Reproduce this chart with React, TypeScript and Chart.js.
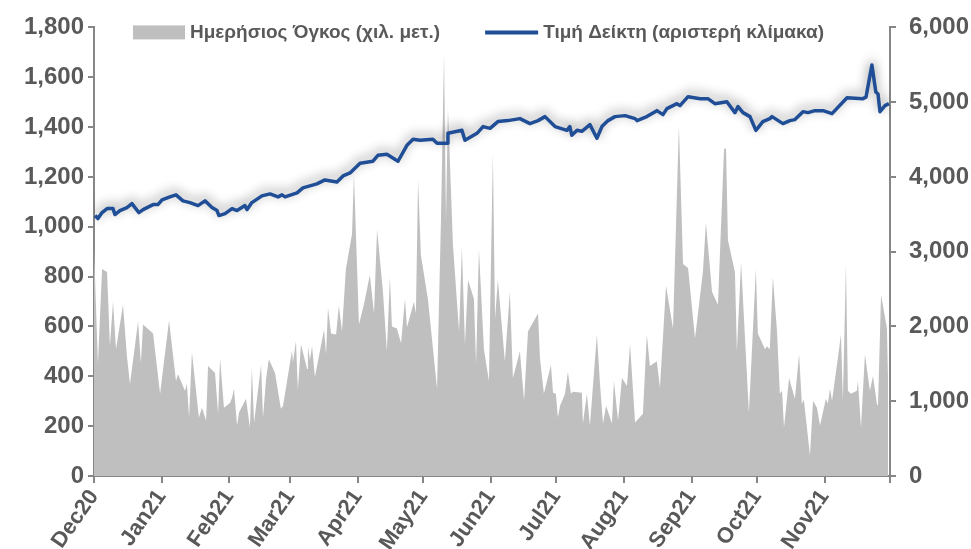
import React, { useEffect, useRef } from "react";
import { Chart, registerables } from "chart.js";

Chart.register(...registerables);

// Days counted from 1 Dec 2020
const volumeDays = [0, 1.8, 3.7, 6.0, 7.3, 8.7, 10.1, 13.3, 15.1, 16.5, 20.2, 21.5, 22.5, 27.1, 30.3, 34.4, 37.6, 38.5, 41.7, 42.6, 43.6, 44.9, 48.1, 49.5, 51.4, 52.3, 55.5, 56.9, 57.8, 59.6, 62.4, 63.3, 64.2, 65.6, 66.5, 69.7, 71.5, 72.4, 73.4, 76.6, 77.5, 78.9, 80.2, 83.0, 85.7, 86.7, 90.8, 91.2, 92.6, 93.5, 94.9, 97.7, 98.1, 99.0, 100.0, 101.3, 105.5, 106.4, 107.3, 108.7, 111.0, 112.3, 113.7, 115.5, 118.3, 119.2, 121.5, 123.8, 126.5, 128.4, 129.8, 132.5, 134.3, 135.7, 136.6, 138.9, 140.8, 142.6, 143.5, 146.7, 147.6, 148.6, 149.9, 153.1, 157.3, 159.1, 160.5, 161.4, 162.3, 164.6, 167.4, 168.7, 170.1, 171.5, 174.2, 175.2, 176.5, 178.8, 181.1, 182.9, 183.9, 185.2, 188.4, 190.7, 192.1, 195.3, 197.2, 199.0, 203.6, 204.5, 206.3, 209.5, 210.5, 211.8, 212.7, 213.7, 216.0, 217.3, 218.7, 219.6, 223.7, 224.2, 226.0, 227.4, 230.6, 232.0, 233.4, 234.8, 237.5, 238.4, 240.3, 242.1, 244.4, 245.8, 248.1, 251.7, 253.5, 254.9, 258.1, 259.5, 262.3, 265.5, 268.2, 270.1, 272.4, 275.6, 279.2, 280.6, 283.4, 286.1, 288.9, 289.8, 290.7, 293.9, 294.8, 296.7, 300.3, 303.5, 304.4, 307.7, 308.6, 309.9, 311.3, 313.2, 314.5, 315.5, 316.4, 318.7, 321.4, 323.3, 324.6, 325.5, 328.3, 329.7, 331.5, 332.9, 335.6, 336.5, 337.5, 338.4, 341.1, 342.5, 343.4, 344.8, 345.7, 347.1, 349.8, 350.3, 351.7, 353.5, 355.8, 357.2, 359.0, 359.5, 360.9, 363.6, 364.1];
const volumeValues = [3060, 1497, 2768, 2728, 1735, 2331, 1695, 2291, 1603, 1232, 2066, 1510, 2026, 1907, 1099, 2079, 1272, 1364, 1139, 1232, 781, 1656, 781, 914, 742, 1470, 1377, 834, 1576, 914, 980, 1046, 1166, 675, 848, 1033, 649, 1444, 715, 1483, 781, 1298, 1563, 1377, 900, 940, 1682, 1523, 1801, 1152, 1762, 1430, 1735, 1550, 1735, 1325, 1960, 1629, 2252, 1907, 1894, 2278, 1934, 2768, 3232, 4030, 2026, 2300, 2689, 2172, 3298, 2464, 1669, 2662, 2000, 1974, 1775, 2371, 1987, 2331, 2172, 3960, 2954, 2371, 1166, 3430, 5650, 3430, 4914, 3086, 1934, 3060, 1762, 2623, 2371, 1497, 3033, 1695, 1272, 4318, 2106, 2623, 1536, 2464, 1311, 1669, 1007, 1934, 2172, 1576, 1099, 1483, 1113, 1099, 781, 940, 1099, 1391, 1099, 1126, 1113, 702, 1099, 675, 1894, 1245, 702, 940, 702, 1272, 742, 1311, 1205, 1762, 715, 834, 1894, 1470, 1536, 1179, 2543, 1974, 4689, 2834, 2781, 1841, 2728, 3391, 2464, 2291, 4371, 4384, 3152, 2728, 1669, 2861, 848, 2768, 1907, 1695, 1735, 1695, 2662, 1934, 1099, 1139, 649, 1311, 1033, 1629, 967, 1020, 278, 1007, 914, 675, 1033, 967, 1166, 1007, 1576, 1894, 1007, 2834, 1139, 1099, 1139, 1272, 649, 1629, 1139, 1338, 967, 940, 2424, 1974, 1311];

const indexDays = [0.5, 1.8, 3.7, 6.0, 8.7, 9.6, 11.9, 15.1, 17.4, 18.8, 20.6, 22.5, 27.1, 29.3, 31.2, 34.8, 37.6, 40.8, 44.0, 47.7, 50.9, 54.1, 56.4, 57.3, 60.1, 63.3, 65.6, 69.2, 70.2, 72.4, 77.0, 80.7, 84.4, 86.2, 87.6, 93.1, 95.8, 102.2, 105.9, 111.4, 114.2, 117.4, 122.0, 127.9, 130.2, 134.3, 139.4, 143.5, 146.3, 149.5, 155.4, 157.3, 161.9, 162.3, 168.7, 170.1, 175.6, 178.4, 181.6, 185.2, 189.8, 195.3, 199.9, 203.6, 206.8, 211.4, 216.9, 218.2, 219.1, 221.5, 223.7, 227.4, 230.6, 232.9, 235.7, 238.9, 243.5, 248.1, 249.0, 253.5, 258.1, 260.9, 262.7, 267.3, 268.7, 272.4, 278.0, 281.5, 284.7, 290.2, 293.9, 295.3, 297.6, 300.8, 303.5, 306.7, 309.9, 310.9, 315.9, 319.1, 321.4, 325.1, 327.4, 330.6, 334.3, 338.4, 345.3, 352.6, 354.0, 356.7, 358.5, 359.5, 360.4, 362.7, 364.5];
const indexValues = [1045, 1033, 1057, 1073, 1073, 1049, 1065, 1077, 1093, 1077, 1057, 1069, 1089, 1089, 1108, 1120, 1128, 1104, 1097, 1085, 1104, 1077, 1065, 1045, 1053, 1073, 1065, 1085, 1069, 1097, 1124, 1132, 1120, 1128, 1120, 1136, 1156, 1172, 1188, 1180, 1204, 1216, 1255, 1263, 1287, 1291, 1263, 1327, 1351, 1347, 1351, 1335, 1335, 1375, 1387, 1347, 1375, 1402, 1395, 1422, 1426, 1434, 1414, 1426, 1442, 1402, 1387, 1402, 1367, 1387, 1383, 1410, 1355, 1402, 1426, 1442, 1446, 1434, 1426, 1442, 1466, 1450, 1474, 1494, 1486, 1522, 1514, 1514, 1494, 1502, 1458, 1482, 1458, 1442, 1387, 1422, 1434, 1442, 1414, 1426, 1430, 1462, 1458, 1466, 1466, 1454, 1518, 1514, 1520, 1649, 1541, 1533, 1462, 1486, 1494];

const monthTicks = [0, 31, 62, 90, 121, 151, 182, 212, 243, 274, 304, 335, 365];
const monthLabels = ["Dec20", "Jan21", "Feb21", "Mar21", "Apr21", "May21", "Jun21", "Jul21", "Aug21", "Sep21", "Oct21", "Nov21", ""];

const seriesNames = ["Ημερήσιος Όγκος (χιλ. μετ.)", "Τιμή Δείκτη (αριστερή κλίμακα)"];

const AREA_COLOR = "#BFBFBF";
const LINE_COLOR = "#1F4E96";
const AXIS_COLOR = "#868686";
const TEXT_COLOR = "#595959";
const FONT = "Liberation Sans";

export default function App() {
  const ref = useRef<HTMLCanvasElement>(null);

  useEffect(() => {
    if (!ref.current) return;

    const shadowPlugin = {
      id: "lineShadow",
      beforeDatasetDraw(chart: any, args: any) {
        if (args.index !== 1) return;
        const ctx = chart.ctx;
        ctx.save();
        ctx.shadowColor = "rgba(0,0,0,0.45)";
        ctx.shadowBlur = 11;
        ctx.shadowOffsetX = 0;
        ctx.shadowOffsetY = -3;
      },
      afterDatasetDraw(chart: any, args: any) {
        if (args.index !== 1) return;
        chart.ctx.restore();
      },
    };

    const legendPlugin = {
      id: "topLegend",
      afterDraw(chart: any) {
        const ctx = chart.ctx;
        const area = chart.chartArea;
        const y = area.top + 5;
        ctx.save();
        ctx.font = `bold 19px "${FONT}"`;
        ctx.textBaseline = "middle";
        let x = area.left + 39;
        ctx.fillStyle = AREA_COLOR;
        ctx.fillRect(x, y - 7, 52, 14);
        x += 57;
        ctx.fillStyle = TEXT_COLOR;
        ctx.fillText(seriesNames[0], x, y);
        x += ctx.measureText(seriesNames[0]).width + 45;
        ctx.strokeStyle = LINE_COLOR;
        ctx.lineWidth = 4;
        ctx.beginPath();
        ctx.moveTo(x, y);
        ctx.lineTo(x + 53, y);
        ctx.stroke();
        x += 58;
        ctx.fillText(seriesNames[1], x, y);
        ctx.restore();
      },
    };

    const xFont = { family: FONT, size: 22, weight: "bold" as const };
    const yFont = { family: FONT, size: 24, weight: "bold" as const };

    const chart = new Chart(ref.current, {
      type: "line",
      data: {
        datasets: [
          {
            label: seriesNames[0],
            data: volumeDays.map((d, i) => ({ x: d, y: volumeValues[i] })),
            yAxisID: "y1",
            fill: "origin",
            backgroundColor: AREA_COLOR,
            borderColor: AREA_COLOR,
            borderWidth: 0,
            pointRadius: 0,
            tension: 0,
            order: 2,
          },
          {
            label: seriesNames[1],
            data: indexDays.map((d, i) => ({ x: d, y: indexValues[i] })),
            yAxisID: "y",
            fill: false,
            borderColor: LINE_COLOR,
            backgroundColor: LINE_COLOR,
            borderWidth: 3.5,
            pointRadius: 0,
            tension: 0,
            borderJoinStyle: "round",
            order: 1,
          },
        ],
      },
      options: {
        animation: false,
        responsive: true,
        maintainAspectRatio: false,
        layout: { padding: { top: 23, left: 0, right: 0, bottom: 0 } },
        plugins: { legend: { display: false }, tooltip: { enabled: false } },
        scales: {
          x: {
            type: "linear",
            min: 0,
            max: 365,
            afterBuildTicks: (axis: any) => {
              axis.ticks = monthTicks.map((v) => ({ value: v }));
            },
            afterFit: (scale: any) => {
              scale.height = 73;
            },
            ticks: {
              autoSkip: false,
              maxRotation: 55,
              minRotation: 55,
              padding: 2,
              color: TEXT_COLOR,
              font: xFont,
              callback: (value: any) => {
                const i = monthTicks.indexOf(Number(value));
                return i >= 0 ? monthLabels[i] : "";
              },
            },
            grid: { display: true, drawOnChartArea: false, drawTicks: true, tickLength: 7, color: AXIS_COLOR, lineWidth: 2 },
            border: { display: true, color: AXIS_COLOR, width: 2 },
          },
          y: {
            position: "left",
            min: 0,
            max: 1800,
            afterFit: (scale: any) => {
              scale.width = 94;
            },
            ticks: { stepSize: 200, color: TEXT_COLOR, font: yFont, padding: 4 },
            grid: { display: true, drawOnChartArea: false, drawTicks: true, tickLength: 6, color: AXIS_COLOR, lineWidth: 2 },
            border: { display: true, color: AXIS_COLOR, width: 2 },
          },
          y1: {
            position: "right",
            min: 0,
            max: 6000,
            afterFit: (scale: any) => {
              scale.width = 81;
            },
            ticks: { stepSize: 1000, color: TEXT_COLOR, font: yFont, padding: 13 },
            grid: { display: true, drawOnChartArea: false, drawTicks: true, tickLength: 6, color: AXIS_COLOR, lineWidth: 2 },
            border: { display: true, color: AXIS_COLOR, width: 2 },
          },
        },
      },
      plugins: [shadowPlugin, legendPlugin],
    });

    return () => chart.destroy();
  }, []);

  return (
    <div style={{ position: "absolute", left: 0, top: 0, width: 971, height: 549, background: "#fff" }}>
      <canvas ref={ref} />
    </div>
  );
}
